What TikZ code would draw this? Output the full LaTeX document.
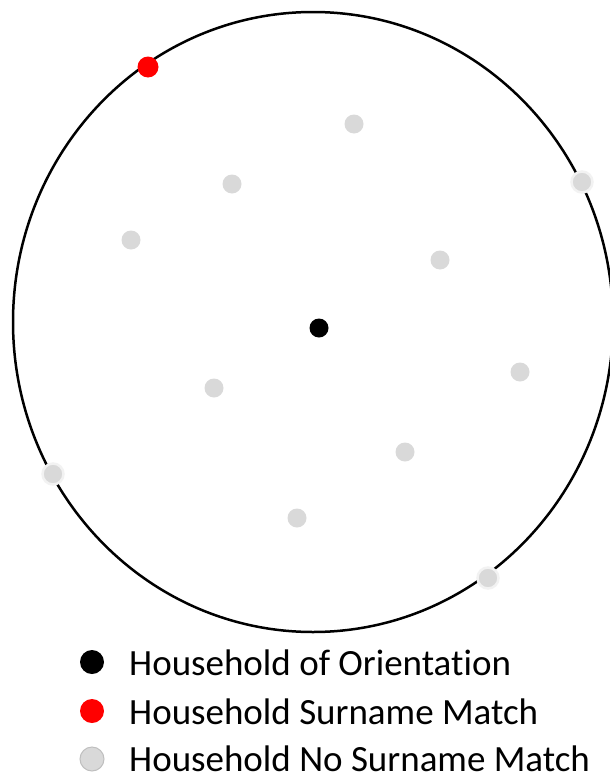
\documentclass[tikz,border=0pt]{standalone}
\usepackage{fontspec}
\setmainfont{Carlito}[Ligatures=NoCommon]
\definecolor{nomatch}{HTML}{D9D9D9}
\definecolor{halo}{HTML}{F2F2F2}
\tikzset{
  hh/.style={circle, inner sep=0pt, minimum size=19pt},
  orient/.style={hh, fill=black},
  match/.style={hh, fill=red, minimum size=21pt},
  nomatch/.style={hh, fill=nomatch},
  edgehh/.style={nomatch, draw=halo, line width=2.5pt, minimum size=21pt},
  legtext/.style={anchor=base west, inner sep=0pt, font=\fontsize{37pt}{38pt}\selectfont},
}
\begin{document}
\begin{tikzpicture}[x=1pt, y=-1pt]
        \useasboundingbox (0,0) rectangle (610,779);
        % Grenze
        \draw[line width=2.5pt] (313,322) ellipse [x radius=300, y radius=310];

        % Haushalte innen
        \node[nomatch] (n1) at (354,124) {};
        \node[nomatch] (n2) at (232,184) {};
        \node[nomatch] (n3) at (131,240) {};
        \node[nomatch] (n4) at (440,260) {};
        \node[nomatch] (n5) at (520,372) {};
        \node[nomatch] (n6) at (214,388) {};
        \node[nomatch] (n7) at (405,452) {};
        \node[nomatch] (n8) at (297,518) {};

        % Haushalte am Rand
        \node[edgehh] (e1) at (582,182) {};
        \node[edgehh] (e2) at (53,474) {};
        \node[edgehh] (e3) at (488,578) {};
        \node[match] (m1) at (148,67) {};

        % Zentrum
        \node[orient] (center) at (319,328) {};

        % Legende
        \node[orient, minimum size=24pt] (l1) at (92,662) {};
        \node[match, minimum size=24pt] (l2) at (92,711) {};
        \node[nomatch, draw=black!25, line width=1pt, minimum size=24pt] (l3) at (92,759) {};
        \node[legtext] (t1) at (129,675) {Household of Orientation};
        \node[legtext] (t2) at (129,724) {Household Surname Match};
        \node[legtext] (t3) at (129,771) {Household No Surname Match};
\end{tikzpicture}
\end{document}
